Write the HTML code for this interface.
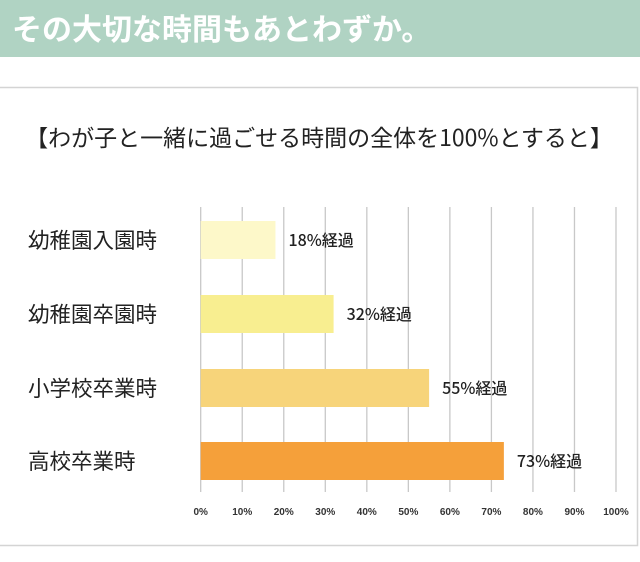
<!DOCTYPE html>
<html><head><meta charset="utf-8"><style>
body{margin:0;width:640px;height:562px;background:#fff;overflow:hidden;font-family:"Liberation Sans","Noto Sans CJK JP",sans-serif}
</style></head><body>
<svg width="640" height="562" style="display:block">
<rect x="0" y="0" width="640" height="57" fill="#b0d3c3"/>
<text x="12" y="40" font-size="30" font-weight="bold" fill="#fff" font-family="Noto Sans CJK JP, sans-serif">その大切な時間もあとわずか。</text>
<path d="M0 87.5H637.5V545.5H0" fill="none" stroke="#d4d4d4" stroke-width="1.5"/>
<text x="319" y="146" font-size="23" text-anchor="middle" fill="#222" font-family="Noto Sans CJK JP, sans-serif">【わが子と一緒に過ごせる時間の全体を100%とすると】</text>
<g id="grid"></g><g id="bars"></g><g id="ticks"></g>
</svg>
<script>
const categories=["幼稚園入園時","幼稚園卒園時","小学校卒業時","高校卒業時"];
const values=[18,32,55,73];
const colors=["#fdf8c9","#f8ee90","#f7d47a","#f5a03a"];
const tickValues=[0,10,20,30,40,50,60,70,80,90,100];
const NS="http://www.w3.org/2000/svg";
const x=v=>200.7+v*4.153;
const yTop=[221,295,369,442];
const bh=38;
function mk(t,a,p){const e=document.createElementNS(NS,t);for(const k in a)e.setAttribute(k,a[k]);p.appendChild(e);return e;}
const grid=document.getElementById('grid'),bars=document.getElementById('bars'),ticks=document.getElementById('ticks');
tickValues.forEach(v=>{
 const l=mk('line',{x1:x(v),x2:x(v),y1:207,y2:492,stroke:'#c8c8c8','stroke-width':1.3},grid);
 
 
 const t=mk('text',{x:x(v),y:515,'font-size':10,'font-weight':'bold','text-anchor':'middle',fill:'#333'},ticks);
 t.textContent=v+'%';
 
 
});
categories.forEach((c,i)=>{
 const r=mk('rect',{x:x(0),y:yTop[i],width:x(values[i])-x(0),height:bh,fill:colors[i]},bars);
 
 
 const lab=mk('text',{x:x(values[i])+13,y:yTop[i]+bh/2+6,'font-size':16,'font-weight':500,fill:'#222','font-family':'Noto Sans CJK JP, sans-serif'},bars);
 lab.textContent=values[i]+'%経過';
 
 
 const cl=mk('text',{x:28,y:yTop[i]+bh/2+8,'font-size':21.5,fill:'#222','font-family':'Noto Sans CJK JP, sans-serif'},bars);
 cl.textContent=c;
 
 
});
</script>
</body></html>
